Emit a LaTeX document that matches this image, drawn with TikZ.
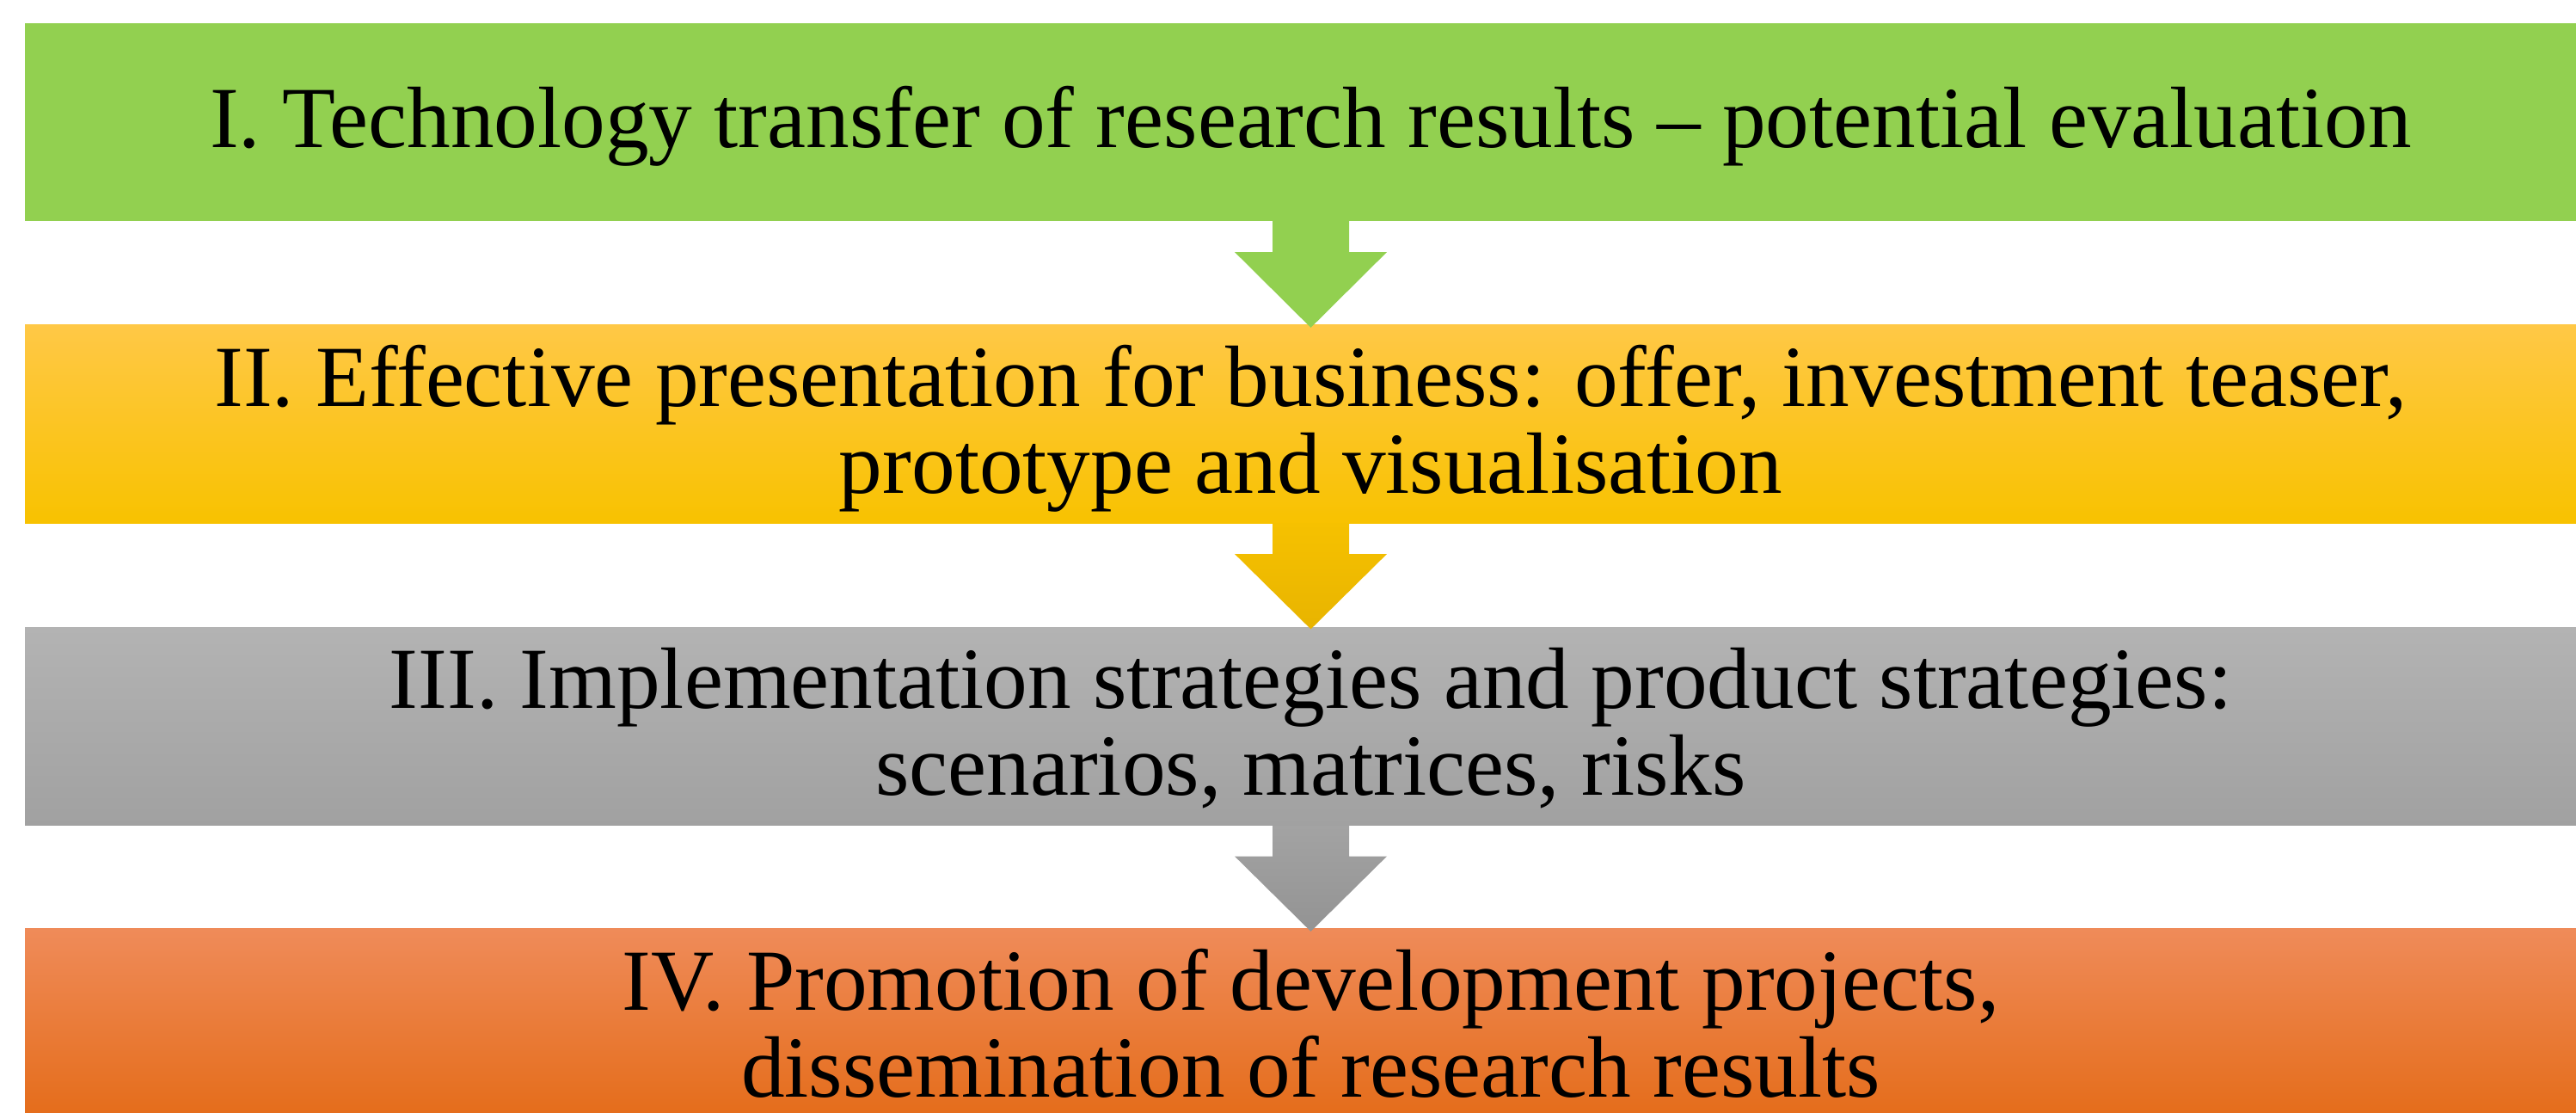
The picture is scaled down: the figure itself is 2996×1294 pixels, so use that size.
\documentclass[tikz,border=0pt]{standalone}
\usepackage{fontspec}
\setmainfont{Liberation Serif}
\usetikzlibrary{calc}
\definecolor{cgreen}{HTML}{92D050}
\definecolor{cytop}{HTML}{FFC846}
\definecolor{cybot}{HTML}{F8C200}
\definecolor{caytop}{HTML}{F6C100}
\definecolor{caybot}{HTML}{E8B400}
\definecolor{cgtop}{HTML}{B3B3B3}
\definecolor{cgbot}{HTML}{A1A1A1}
\definecolor{cagtop}{HTML}{A3A3A3}
\definecolor{cagbot}{HTML}{939393}
\definecolor{cotop}{HTML}{EF8B59}
\definecolor{comid}{HTML}{F57E26}
\definecolor{cobot}{HTML}{E46B17}
\tikzset{
  stagebox/.style={rectangle, draw=none, inner sep=0pt, outer sep=0pt,
    minimum width=29.89cm, minimum height=2.30cm},
  stagetext/.style={inner sep=0pt, outer sep=0pt, align=center,
    font=\fontsize{28.8pt}{29pt}\selectfont},
}
\begin{document}
\begin{tikzpicture}[x=0.01cm,y=-0.01cm]
\useasboundingbox (0,0) rectangle (2996,1294);
\clip (0,0) rectangle (2996,1294);
\node[stagebox, fill=cgreen] (b1) at (1524.5,142) {};
\node[stagebox, top color=cytop, bottom color=cybot] (b2) at (1524.5,493) {};
\node[stagebox, top color=cgtop, bottom color=cgbot] (b3) at (1524.5,844.5) {};
\node[stagebox, top color=cotop, middle color=comid, bottom color=cobot] (b4) at (1524.5,1195) {};
% arrows
\fill[cgreen] ($(b1.south)+(-44.5,0)$) -- ++(0,36) -- ++(-44,0) -- ($(b2.north)+(0,3)$) -- ($(b1.south)+(88.5,36)$) -- ++(-44,0) -- ($(b1.south)+(44.5,0)$) -- cycle;
\shade[top color=caytop, bottom color=caybot] ($(b2.south)+(-44.5,0)$) -- ++(0,36) -- ++(-44,0) -- ($(b3.north)+(0,2)$) -- ($(b2.south)+(88.5,36)$) -- ++(-44,0) -- ($(b2.south)+(44.5,0)$) -- cycle;
\shade[top color=cagtop, bottom color=cagbot] ($(b3.south)+(-44.5,0)$) -- ++(0,36) -- ++(-44,0) -- ($(b4.north)+(0,3)$) -- ($(b3.south)+(88.5,36)$) -- ++(-44,0) -- ($(b3.south)+(44.5,0)$) -- cycle;
% texts
\node[stagetext] (t1) at (1524.5,151.6) {\strut I. Technology transfer of research results -- potential evaluation};
\node[stagetext] (t2) at (1524.5,502.6) {\strut II. Effective presentation for business: offer, investment teaser,\\\strut prototype and visualisation};
\node[stagetext] (t3) at (1524.5,853.6) {\strut III. Implementation strategies and product strategies:\\\strut scenarios, matrices, risks};
\node[stagetext] (t4) at (1524.5,1204.6) {\strut IV. Promotion of development projects,\\\strut dissemination of research results};
\end{tikzpicture}
\end{document}
